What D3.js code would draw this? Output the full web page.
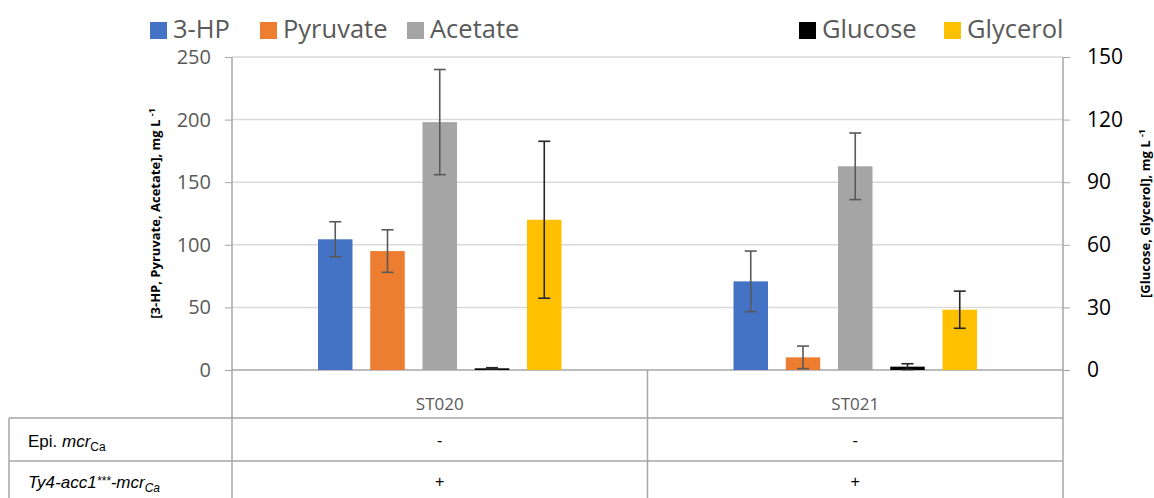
<!DOCTYPE html>
<html>
<head>
<meta charset="utf-8">
<script src="https://cdn.jsdelivr.net/npm/d3@7"></script>
<style>
  body { margin: 0; background: #fff; }
  text { font-family: "Open Sans", sans-serif; }
</style>
</head>
<body>
<div class="canvas"></div>
<script>
// chart data
const strains = ['ST020', 'ST021']
const series = ['3-HP', 'Pyruvate', 'Acetate', 'Glucose', 'Glycerol']
const onRight = ['Glucose', 'Glycerol']
const means = {
  '3-HP':     [104.4, 70.8],
  'Pyruvate': [95, 10.1],
  'Acetate':  [198, 162.7],
  'Glucose':  [0.8, 1.6],
  'Glycerol': [72, 28.9],
}
const errors = {
  '3-HP':     [14, 24.2],
  'Pyruvate': [17, 9],
  'Acetate':  [42, 26.6],
  'Glucose':  [0.3, 1.4],
  'Glycerol': [37.6, 8.9],
}
const leftTicks = [0, 50, 100, 150, 200, 250]
const rightTicks = [0, 30, 60, 90, 120, 150]
const epiRow = ['-', '-']
const ty4Row = ['+', '+']

const colours = d3.scaleOrdinal()
  .domain(series)
  .range(['#4472C4', '#ED7D31', '#A5A5A5', '#000000', '#FFC000'])

// layout
const dims = { width: 1154, height: 498 }
const plot = { left: 232, right: 1063, top: 57, bottom: 370 }
const table = { left: 9, catRow: 418, rowLine: 461, bottom: 498 }

const svg = d3.select('.canvas')
  .append('svg')
  .attr('width', dims.width)
  .attr('height', dims.height)

const x0 = d3.scaleBand()
  .domain(strains)
  .range([plot.left, plot.right])

const x1 = d3.scaleBand()
  .domain(series)
  .range([86, x0.bandwidth() - 86])
  .paddingInner(0.34)

const yLeft = d3.scaleLinear().domain([0, 250]).range([plot.bottom, plot.top])
const yRight = d3.scaleLinear().domain([0, 150]).range([plot.bottom, plot.top])
const yFor = key => onRight.includes(key) ? yRight : yLeft

// gridlines
svg.append('g')
  .selectAll('line')
  .data(leftTicks.slice(1))
  .enter().append('line')
  .attr('x1', plot.left).attr('x2', plot.right)
  .attr('y1', d => yLeft(d)).attr('y2', d => yLeft(d))
  .attr('stroke', '#D9D9D9').attr('stroke-width', 1.5)

// left axis
const leftAxis = svg.append('g')
  .attr('transform', `translate(${plot.left},0)`)
  .call(d3.axisLeft(yLeft).tickValues(leftTicks).tickSize(7).tickPadding(14))
leftAxis.select('.domain').remove()
leftAxis.selectAll('line').attr('stroke', '#A6A6A6')
leftAxis.selectAll('text').attr('fill', '#595959').style('font-size', '20px')
  .style('font-family', '"Open Sans", sans-serif')

// right axis
const rightAxis = svg.append('g')
  .attr('transform', `translate(${plot.right},0)`)
  .call(d3.axisRight(yRight).tickValues(rightTicks).tickSize(7).tickPadding(17))
rightAxis.select('.domain').remove()
rightAxis.selectAll('line').attr('stroke', '#A6A6A6')
rightAxis.selectAll('text').attr('fill', '#000').style('font-size', '21px')
  .style('font-family', '"Open Sans", sans-serif')

// table and axis lines
const lines = svg.append('g').attr('stroke', '#A6A6A6').attr('stroke-width', 1.5)
lines.append('line').attr('x1', plot.left).attr('x2', plot.left).attr('y1', plot.top).attr('y2', table.bottom)
lines.append('line').attr('x1', plot.right).attr('x2', plot.right).attr('y1', plot.top).attr('y2', table.bottom)
lines.append('line').attr('x1', x0('ST021')).attr('x2', x0('ST021')).attr('y1', plot.bottom).attr('y2', table.bottom)
lines.append('line').attr('x1', plot.left).attr('x2', plot.right).attr('y1', plot.bottom).attr('y2', plot.bottom)
lines.append('line').attr('x1', table.left).attr('x2', table.left).attr('y1', table.catRow).attr('y2', table.bottom)
lines.append('line').attr('x1', table.left).attr('x2', plot.right).attr('y1', table.catRow).attr('y2', table.catRow)
lines.append('line').attr('x1', table.left).attr('x2', plot.right).attr('y1', table.rowLine).attr('y2', table.rowLine)

// bars
const rows = []
strains.forEach((s, i) => {
  series.forEach(k => rows.push({ strain: s, key: k, value: means[k][i], err: errors[k][i] }))
})

const groups = svg.append('g')
  .selectAll('g')
  .data(rows)
  .enter().append('g')
  .attr('transform', d => `translate(${x0(d.strain) + x1(d.key)},0)`)

groups.append('rect')
  .attr('y', d => yFor(d.key)(d.value))
  .attr('width', x1.bandwidth())
  .attr('height', d => plot.bottom - yFor(d.key)(d.value))
  .attr('fill', d => colours(d.key))

// error bars
const errColour = d => (d.key === 'Glycerol' || d.key === 'Glucose') ? '#262626' : '#595959'
const cx = x1.bandwidth() / 2
groups.append('line')
  .attr('x1', cx).attr('x2', cx)
  .attr('y1', d => yFor(d.key)(d.value + d.err))
  .attr('y2', d => yFor(d.key)(Math.max(0, d.value - d.err)))
  .attr('stroke', errColour).attr('stroke-width', 1.6)
groups.selectAll('.cap')
  .data(d => [{ d, v: d.value + d.err }, { d, v: Math.max(0, d.value - d.err) }])
  .enter().append('line')
  .attr('x1', cx - 6).attr('x2', cx + 6)
  .attr('y1', c => yFor(c.d.key)(c.v)).attr('y2', c => yFor(c.d.key)(c.v))
  .attr('stroke', c => errColour(c.d)).attr('stroke-width', 1.6)

// category labels and table text
const mid = s => x0(s) + x0.bandwidth() / 2
svg.append('g').selectAll('text')
  .data(strains).enter().append('text')
  .attr('x', mid).attr('y', 410)
  .attr('text-anchor', 'middle')
  .attr('fill', '#595959').style('font-size', '17px')
  .text(d => d)

svg.append('g').selectAll('text')
  .data(epiRow).enter().append('text')
  .attr('x', (d, i) => mid(strains[i])).attr('y', 446)
  .attr('text-anchor', 'middle')
  .style('font-family', '"Liberation Sans", Arial, sans-serif').style('font-size', '16px')
  .text(d => d)

svg.append('g').selectAll('text')
  .data(ty4Row).enter().append('text')
  .attr('x', (d, i) => mid(strains[i])).attr('y', 487)
  .attr('text-anchor', 'middle')
  .style('font-family', '"Liberation Sans", Arial, sans-serif').style('font-size', '16px')
  .text(d => d)

const epi = svg.append('text')
  .attr('x', 28).attr('y', 447)
  .style('font-family', '"Liberation Sans", Arial, sans-serif').style('font-size', '17px')
epi.append('tspan').text('Epi. ')
epi.append('tspan').style('font-style', 'italic').text('mcr')
epi.append('tspan').attr('dy', 4).style('font-size', '12px').text('Ca')

const ty4 = svg.append('text')
  .attr('x', 28).attr('y', 488)
  .style('font-family', '"Liberation Sans", Arial, sans-serif').style('font-size', '17px')
  .style('font-style', 'italic')
ty4.append('tspan').text('Ty4-acc1')
ty4.append('tspan').attr('dy', -3).style('font-size', '12px').text('***')
ty4.append('tspan').attr('dy', 3).text('-mcr')
ty4.append('tspan').attr('dy', 4).style('font-size', '12px').text('Ca')

// axis titles
const leftTitle = svg.append('text')
  .attr('transform', `translate(160,${(plot.top + plot.bottom) / 2}) rotate(-90)`)
  .attr('text-anchor', 'middle')
  .style('font-size', '13px').style('font-weight', 'bold')
leftTitle.append('tspan').text('[3-HP, Pyruvate, Acetate], mg L ')
leftTitle.append('tspan').attr('dy', -5).style('font-size', '9px').text('-1')

const rightTitle = svg.append('text')
  .attr('transform', `translate(1150,${(plot.top + plot.bottom) / 2}) rotate(-90)`)
  .attr('text-anchor', 'middle')
  .style('font-size', '13px').style('font-weight', 'bold')
rightTitle.append('tspan').text('[Glucose, Glycerol], mg L ')
rightTitle.append('tspan').attr('dy', -5).style('font-size', '9px').text('-1')

// legend
const legendPos = [
  { key: '3-HP', x: 150 },
  { key: 'Pyruvate', x: 260 },
  { key: 'Acetate', x: 407 },
  { key: 'Glucose', x: 799 },
  { key: 'Glycerol', x: 944 },
]
const legend = svg.append('g')
  .selectAll('g')
  .data(legendPos)
  .enter().append('g')
  .attr('transform', d => `translate(${d.x},22)`)
legend.append('rect')
  .attr('width', 17).attr('height', 17)
  .attr('fill', d => colours(d.key))
legend.append('text')
  .attr('x', 23).attr('y', 16)
  .attr('fill', '#595959').style('font-size', '25.5px')
  .text(d => d.key)
</script>
</body>
</html>
